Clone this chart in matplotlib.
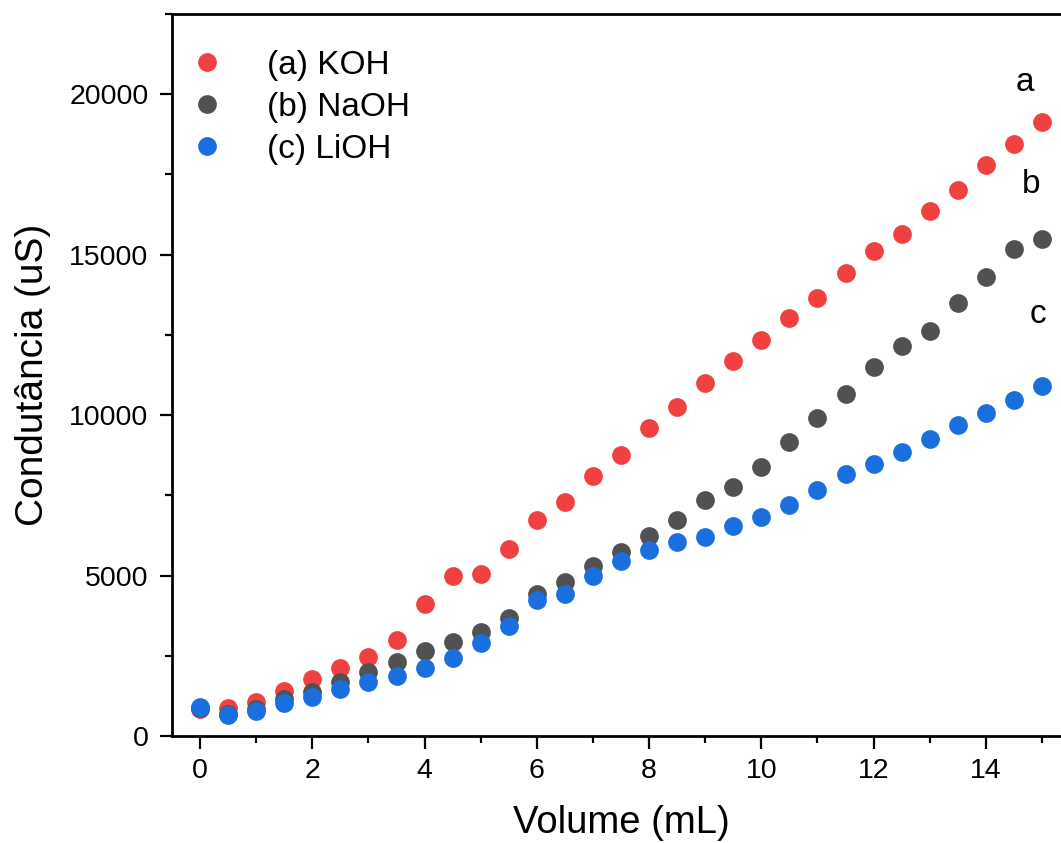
import numpy as np
import matplotlib
matplotlib.use('Agg')
import matplotlib.pyplot as plt
from matplotlib.ticker import MultipleLocator

plt.rcParams['font.family'] = ['Liberation Sans', 'DejaVu Sans']

# volume added (mL)
volume = np.arange(0, 15.5, 0.5)

# conductance readings (uS)
koh = [840, 870, 1060, 1400, 1780, 2120, 2470, 3000, 4120, 5000, 5060, 5840,
       6720, 7280, 8090, 8750, 9590, 10250, 11000, 11690, 12340, 13030, 13660,
       14440, 15120, 15630, 16350, 17030, 17780, 18440, 19120]
naoh = [880, 700, 850, 1150, 1370, 1690, 2000, 2310, 2660, 2940, 3250, 3690,
        4410, 4810, 5310, 5720, 6220, 6720, 7340, 7750, 8380, 9160, 9900,
        10650, 11500, 12160, 12630, 13500, 14310, 15190, 15500]
lioh = [900, 650, 780, 1030, 1220, 1470, 1690, 1880, 2120, 2440, 2910, 3440,
        4250, 4440, 5000, 5440, 5810, 6060, 6190, 6530, 6810, 7190, 7660,
        8160, 8470, 8840, 9250, 9690, 10060, 10480, 10910]

series_labels = ['(a) KOH', '(b) NaOH', '(c) LiOH']
curve_tags = ['a', 'b', 'c']
tag_pos = [(14.7, 20350), (14.8, 17200), (14.92, 13150)]
colors = ['#F14040', '#515151', '#1A6FDF']

fig = plt.figure(figsize=(10.61, 8.43), dpi=100)
ax = fig.add_axes([172 / 1061, 107 / 843, 898 / 1061, 722 / 843])

for ys, lab, col in zip([koh, naoh, lioh], series_labels, colors):
    ax.plot(volume, ys, linestyle='none', marker='o', markersize=13.5,
            color=col, markeredgewidth=0, label=lab)

for tag, (tx, ty) in zip(curve_tags, tag_pos):
    ax.text(tx, ty, tag, fontsize=24, ha='center', va='center')

ax.set_xlim(-0.5, 15.5)
ax.set_ylim(0, 22500)
ax.xaxis.set_major_locator(MultipleLocator(2))
ax.xaxis.set_minor_locator(MultipleLocator(1))
ax.yaxis.set_major_locator(MultipleLocator(5000))
ax.yaxis.set_minor_locator(MultipleLocator(2500))

ax.tick_params(which='both', direction='out', width=1.6, labelsize=20.5)
ax.tick_params(which='major', length=9)
ax.tick_params(which='minor', length=5)
ax.tick_params(axis='y', pad=8)
ax.tick_params(axis='x', pad=7)
for sp in ax.spines.values():
    sp.set_linewidth(2)

ax.set_xlabel('Volume (mL)', fontsize=27.5, labelpad=15)
ax.set_ylabel('Condutância (uS)', fontsize=28, labelpad=13)

ax.legend(loc='upper left', bbox_to_anchor=(0.02, 0.95), frameon=False,
          fontsize=24, handlelength=1.0, handletextpad=1.3, borderpad=0,
          borderaxespad=0, labelspacing=0.33)

fig.savefig('out.png', dpi=100)
